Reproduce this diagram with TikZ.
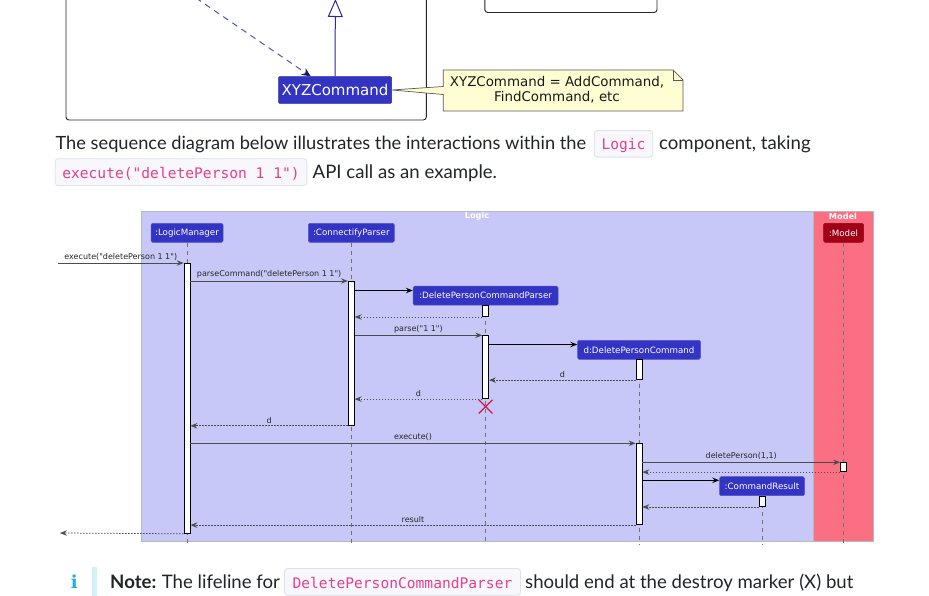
\documentclass[tikz,border=0pt]{standalone}
\usepackage{fontspec}
\setmainfont{Lato}
\newfontfamily\umlfont{DejaVu Sans}
\newfontfamily\codefont{DejaVu Sans Mono}
\newfontfamily\iconfont{DejaVu Serif}
\usetikzlibrary{arrows.meta,shapes.misc}
\definecolor{txt}{HTML}{212529}
\definecolor{codepink}{HTML}{E83E8C}
\definecolor{codebg}{HTML}{F8F8FC}
\definecolor{codeborder}{HTML}{DEE0EA}
\definecolor{pblue}{HTML}{3333C4}
\definecolor{logicbg}{HTML}{C8C8F8}
\definecolor{modelbg}{HTML}{FA7082}
\definecolor{modelbox}{HTML}{A00016}
\definecolor{notebg}{HTML}{FEFED2}
\definecolor{destroyc}{HTML}{C8184E}
\definecolor{infoc}{HTML}{1CB0DA}
\definecolor{infobar}{HTML}{D2F0FA}
\definecolor{genc}{HTML}{2A2AA0}
\definecolor{depc}{HTML}{5555B0}
\definecolor{dephead}{HTML}{1C1C66}
\tikzset{
  body/.style={font=\fontsize{18.6}{22}\selectfont, text=txt, inner sep=0pt, anchor=base west},
  codebox/.style={draw=codeborder, fill=codebg, rounded corners=3pt, line width=0.8pt, inner sep=0pt,
    font=\codefont\fontsize{14.6}{17}\selectfont, text=codepink, text height=12.4pt, text depth=0pt,
    minimum height=26.7pt, anchor=base},
  part/.style={fill=pblue, draw=pblue!85!white, line width=0.5pt, rounded corners=1.5pt, text=white,
    font=\umlfont\fontsize{8.7}{10}\selectfont, minimum height=19pt, inner sep=0pt},
  act/.style={draw=black, fill=white, line width=0.8pt, minimum width=6pt, inner sep=0pt, anchor=north},
  life/.style={draw=gray!90!black, line width=0.55pt, dash pattern=on 4pt off 4pt},
  msg/.style={draw=black!70, line width=0.75pt, -{Stealth[length=7pt,width=5.5pt,inset=2.5pt]}},
  ret/.style={msg, dash pattern=on 1.5pt off 1.5pt},
  mk/.style={draw=black, line width=1.1pt, -{Stealth[length=7pt,width=5.5pt,inset=2.5pt]}},
  lbl/.style={font=\umlfont\fontsize{8}{9}\selectfont, text=black!85, inner sep=0pt},
  frametitle/.style={font=\umlfont\bfseries\fontsize{8.2}{9}\selectfont, text=white, inner sep=0pt},
  xyzbox/.style={fill=pblue, draw=pblue!80!black, line width=0.5pt, rounded corners=1pt, text=white,
    font=\umlfont\fontsize{15}{17}\selectfont, minimum width=113pt, minimum height=26.6pt, inner sep=0pt},
  gen/.style={draw=genc, line width=1pt, -{Triangle[open, fill=white, length=18pt, width=15pt]}},
  dep/.style={draw=depc, line width=1pt, dash pattern=on 6pt off 5pt,
    -{Stealth[length=9pt,width=8pt,inset=3pt,color=dephead]}},
  notestyle/.style={draw=gray!70!black, line width=0.7pt, fill=notebg, line join=miter},
  notetext/.style={font=\umlfont\fontsize{13.4}{15.7}\selectfont, align=center, text=black!90, inner sep=0pt},
  framebox/.style={draw=black!85, line width=0.9pt, rounded corners=3pt},
}
\begin{document}
\begin{tikzpicture}[x=1pt,y=-1pt]
\useasboundingbox (0,0) rectangle (929,596);
\fill[white] (0,0) rectangle (929,596);

% ---------- top class diagram fragment ----------
\draw[framebox] (66,-10) rectangle (426.3,120);
\draw[framebox] (484.8,-10) rectangle (657,12.5);
\node[xyzbox] (xyz) at (335,90) {XYZCommand};
\coordinate (gtip) at (335.4,-1);
\draw[gen] (xyz.north) -- (gtip);
\coordinate (dstart) at (196,-2);
\draw[dep] (dstart) -- ([xshift=32.5pt]xyz.north west);
\draw[notestyle] (xyz.east) -- (443.3,86.5) -- (443.3,70) -- (673,70) -- (683,80) -- (683,111)
  -- (443.3,111) -- (443.3,94.5) -- cycle;
\draw[notestyle, fill=none] (673,70) -- (673,80) -- (683,80);
\node[notetext] (note) at (557,89.8) {XYZCommand = AddCommand,\\FindCommand, etc};

% ---------- paragraph ----------
\node[body, font=\fontsize{18.25}{22}\selectfont] (p1a) at (55.4,150) {The sequence diagram below illustrates the interactions within the};
\node[codebox, minimum width=58.4pt] (c1) at (623.5,150) {Logic};
\node[body] (p1b) at (659,150) {component, taking};
\node[codebox, minimum width=251.7pt] (c2) at (181,178.3) {execute("deletePerson 1 1")};
\node[body] (p2) at (312.5,178.3) {API call as an example.};

% ---------- sequence diagram ----------
\draw[draw=gray!55, fill=logicbg, line width=0.8pt] (141,211) rectangle (813,541);
\draw[draw=gray!55, fill=modelbg, line width=0.8pt] (813,211) rectangle (873,541);
\node[frametitle] (logict) at (477,216.5) {Logic};
\node[frametitle] (modelt) at (843,216.5) {Model};

\node[part, minimum width=72pt] (lm) at (187,232.8) {:LogicManager};
\node[part, minimum width=86pt] (cp) at (351.3,232.8) {:ConnectifyParser};
\node[part, minimum width=40pt, fill=modelbox, draw=modelbox] (md) at (843.5,232.8) {:Model};
\node[part, minimum width=145pt] (dpcp) at (485.6,295.7) {:DeletePersonCommandParser};
\node[part, minimum width=123pt] (dpc) at (639,349.8) {d:DeletePersonCommand};
\node[part, minimum width=85pt] (cr) at (762,486.2) {:CommandResult};

\coordinate (bot) at (0,545);
\foreach \p in {lm,cp,dpcp,dpc,cr,md} \draw[life] (\p.south) -- (\p.south |- bot);

\node[act, minimum height=270pt] (lmA) at (lm.center |- 0,263) {};
\node[act, minimum height=144pt] (cpA) at (cp.center |- 0,281) {};
\node[act, minimum height=11pt] (dpA1) at (dpcp.center |- 0,305.2) {};
\node[act, minimum height=63pt] (dpA2) at (dpcp.center |- 0,335.3) {};
\node[act, minimum height=20pt] (dcA1) at (dpc.center |- 0,359.3) {};
\node[act, minimum height=81pt] (dcA2) at (dpc.center |- 0,443.3) {};
\node[act, minimum height=9pt] (mA) at (md.center |- 0,462.3) {};
\node[act, minimum height=10.5pt] (crA) at (cr.center |- 0,495.7) {};

\node[cross out, draw=destroyc, line width=1.2pt, minimum size=12.4pt, inner sep=0pt] (dx) at (485.6,406.7) {};

\coordinate (extin) at (58,263);
\coordinate (extout) at (60,533);
\draw[msg] (extin) -- (lmA.north west) node[lbl, midway, above=2pt] {execute("deletePerson 1 1")};
\draw[msg] (lmA.east |- cpA.north) -- (cpA.north west) node[lbl, midway, above=2pt] {parseCommand("deletePerson 1 1")};
\draw[mk] (cpA.east |- 0,290.5) -- (dpcp.west |- 0,290.5);
\draw[ret] (dpA1.south west) -- (cpA.east |- dpA1.south);
\draw[msg] (cpA.east |- dpA2.north) -- (dpA2.north west) node[lbl, midway, above=2pt] {parse("1 1")};
\draw[mk] (dpA2.east |- 0,344.5) -- (dpc.west |- 0,344.5);
\draw[ret] (dcA1.south west) -- (dpA2.east |- dcA1.south) node[lbl, midway, above=2pt] {d};
\draw[ret] (dpA2.south west) -- (cpA.east |- dpA2.south) node[lbl, midway, above=2pt] {d};
\draw[ret] (cpA.south west) -- (lmA.east |- cpA.south) node[lbl, midway, above=2pt] {d};
\draw[msg] (lmA.east |- dcA2.north) -- (dcA2.north west) node[lbl, midway, above=2pt] {execute()};
\draw[msg] (dcA2.east |- mA.north) -- (mA.north west) node[lbl, midway, above=2pt] {deletePerson(1,1)};
\draw[ret] (mA.south west) -- (dcA2.east |- mA.south);
\draw[mk] (dcA2.east |- 0,480.3) -- (cr.west |- 0,480.3);
\draw[ret] (crA.south west) -- (dcA2.east |- crA.south);
\draw[ret] (dcA2.south west) -- (lmA.east |- dcA2.south) node[lbl, midway, above=2pt] {result};
\draw[ret] (lmA.south west) -- (extout);

% ---------- note line ----------
\fill[infobar] (91.7,566.7) rectangle (96.7,600);
\node[font=\iconfont\bfseries\fontsize{18}{20}\selectfont, text=infoc, inner sep=0pt, anchor=base] (ic) at (74.2,588.3) {i};
\node[body, font=\bfseries\fontsize{18.6}{22}\selectfont] (nb) at (110,588) {Note:};
\node[body] (nt) at (161.7,588) {The lifeline for};
\node[codebox, minimum width=236pt] (c3) at (402.5,588) {DeletePersonCommandParser};
\node[body] (ns) at (525,588) {should end at the destroy marker (X) but};
\end{tikzpicture}
\end{document}
